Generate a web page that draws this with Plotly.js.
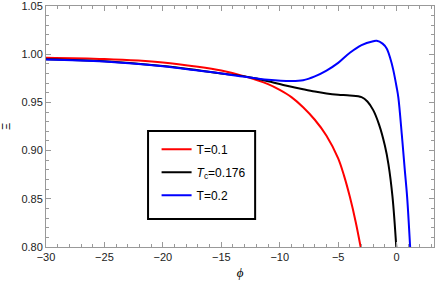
<!DOCTYPE html>
<html>
<head>
<meta charset="utf-8">
<script src="https://cdn.plot.ly/plotly-3.0.1.min.js"></script>
<style>html,body{margin:0;padding:0;background:#fff;}#chart{width:436px;height:287px;}</style>
</head>
<body>
<div id="chart"></div>
<script>
// Data
const redPhi = [-30, -25, -20, -17, -15, -13, -11, -10, -9, -8, -7, -6, -5, -4.5, -4, -3.5, -3.0];
const redXi  = [0.9964, 0.9950, 0.9915, 0.9870, 0.9830, 0.9770, 0.9690, 0.9630, 0.9555, 0.9450, 0.9320, 0.9155, 0.8920, 0.8740, 0.8520, 0.8260, 0.7950];

const blackPhi = [-30, -25, -20, -17, -15, -13, -12, -11, -10, -9, -8, -7, -6, -5, -4, -3, -2.5, -2, -1.5, -1, -0.7, -0.35, 0.0];
const blackXi  = [0.9948, 0.9927, 0.9878, 0.9833, 0.9800, 0.9770, 0.9747, 0.9720, 0.9690, 0.9662, 0.9636, 0.9612, 0.9593, 0.9580, 0.9572, 0.9555, 0.9510, 0.9420, 0.9270, 0.9050, 0.8860, 0.8520, 0.7950];

const bluePhi = [-30, -25, -20, -17, -15, -13, -11, -9, -8, -7, -6, -5, -4, -3, -2, -1.7, -1.2, -0.85, -0.5, -0.29, 0, 0.15, 0.45, 0.7, 0.9, 1.18];
const blueXi  = [0.9946, 0.9925, 0.9875, 0.9830, 0.9800, 0.9765, 0.9735, 0.9722, 0.9730, 0.9770, 0.9830, 0.9910, 1.0015, 1.0095, 1.0135, 1.0140, 1.0110, 1.0060, 0.9940, 0.9840, 0.9660, 0.9550, 0.9160, 0.8800, 0.8520, 0.7950];

const names = ['T=0.1', '<i>T</i><sub>c</sub>=0.176', 'T=0.2'];
const colors = ['#ff0000', '#000000', '#0000ff'];

const traces = [
  {x: redPhi, y: redXi},
  {x: blackPhi, y: blackXi},
  {x: bluePhi, y: blueXi}
].map((t, i) => ({
  x: t.x, y: t.y, type: 'scatter', mode: 'lines', name: names[i],
  legendgroup: 'g' + i,
  line: {color: colors[i], width: 2, shape: 'spline', smoothing: 1},
  hoverinfo: 'skip'
}));

const axisCommon = {
  showgrid: false, zeroline: false, showline: true, linecolor: '#999', linewidth: 1,
  mirror: 'ticks', ticks: 'inside', ticklen: 5, tickcolor: '#999', tickwidth: 1,
  ticklabeloverflow: 'allow',
  tickfont: {family: 'Liberation Sans, Arial, sans-serif', size: 11, color: '#222'}
};

const layout = {
  width: 436, height: 287,
  margin: {l: 46, r: 2, t: 6, b: 40},
  paper_bgcolor: '#fff', plot_bgcolor: '#fff',
  showlegend: true,
  legend: {
    x: 0.285, y: 0.466, xanchor: 'left', yanchor: 'top',
    borderwidth: 0, bgcolor: 'rgba(0,0,0,0)',
    font: {family: 'Liberation Sans, Arial, sans-serif', size: 12, color: '#000'},
    itemwidth: 30, tracegroupgap: 4
  },
  shapes: [{
    type: 'rect', xref: 'paper', yref: 'paper',
    x0: 0.263, x1: 0.539, y0: 0.116, y1: 0.481,
    line: {color: '#000', width: 2}, fillcolor: '#fff', layer: 'above'
  }],
  xaxis: Object.assign({}, axisCommon, {
    range: [-30, 3.2], dtick: 5, tick0: 0,
    minor: {dtick: 1, ticks: 'inside', ticklen: 3, tickcolor: '#999', showgrid: false},
    title: {text: '<i>ϕ</i>', font: {family: 'Liberation Serif, serif', size: 13, color: '#000'}, standoff: 5}
  }),
  yaxis: Object.assign({}, axisCommon, {
    range: [0.80, 1.05], dtick: 0.05, tick0: 0.8, tickformat: '.2f',
    minor: {dtick: 0.01, ticks: 'inside', ticklen: 3, tickcolor: '#999', showgrid: false},
    title: {text: 'Ξ', font: {family: 'Liberation Sans, Arial, sans-serif', size: 11, color: '#000'}, standoff: 10}
  })
};

Plotly.newPlot('chart', traces, layout, {staticPlot: true, displayModeBar: false});
</script>
</body>
</html>
